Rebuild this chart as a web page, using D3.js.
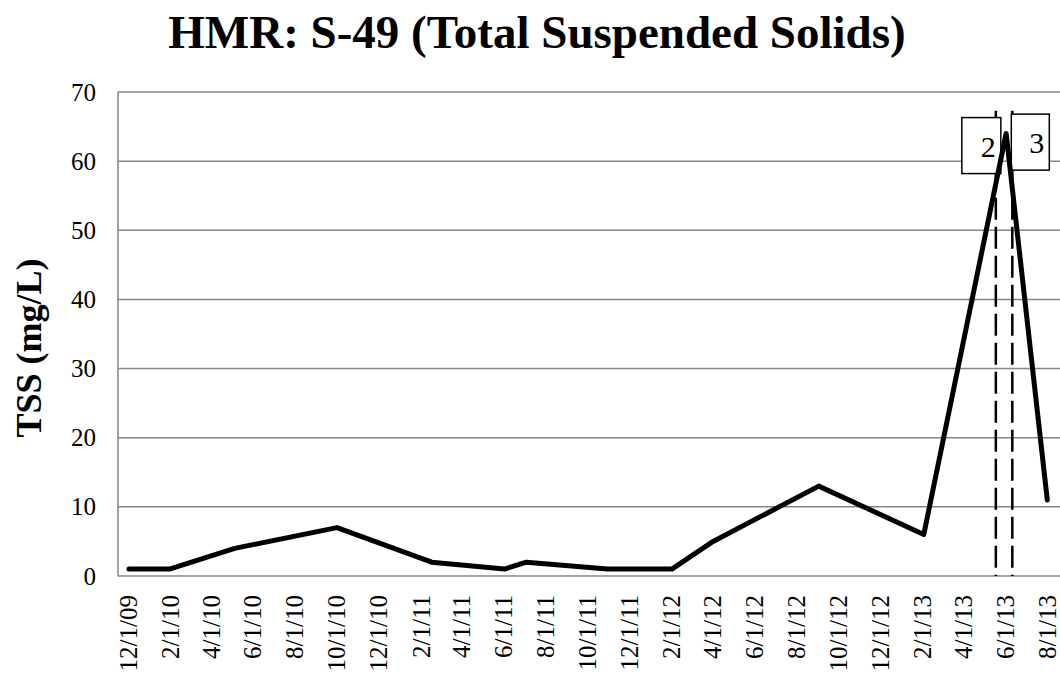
<!DOCTYPE html>
<html>
<head>
  <style>
    body {
      margin: 0;
      background: #fff;
    }
    svg text {
      font-family: "Liberation Serif", "Times New Roman", serif;
      fill: #000;
    }
    .grid line {
      stroke: #868686;
      stroke-width: 1.5px;
    }
    .series {
      fill: none;
      stroke: #000;
      stroke-width: 5px;
      stroke-linejoin: round;
      stroke-linecap: round;
    }
    .event {
      stroke: #000;
      stroke-width: 2.5px;
      stroke-dasharray: 22, 7;
    }
    .callout rect {
      fill: #fff;
      stroke: #000;
      stroke-width: 1.5px;
    }
  </style>
</head>
<body>
  <script src="https://d3js.org/d3.v7.min.js"></script>
  <script>
    // sample dates and TSS readings
    var sampleDates = ["12/1/09", "1/29/10", "5/4/10", "9/30/10", "2/15/11", "6/1/11", "7/3/11",
                       "10/29/11", "1/31/12", "3/31/12", "9/1/12", "2/1/13", "6/1/13", "7/31/13"];
    var tss = [1, 1, 4, 7, 2, 1, 2, 1, 1, 5, 13, 6, 64, 11];

    // dashed event markers with their numbered callouts
    var eventDates = ["5/17/13", "6/10/13"];
    var eventLabels = ["2", "3"];

    var tickLabels = ["12/1/09", "2/1/10", "4/1/10", "6/1/10", "8/1/10", "10/1/10", "12/1/10",
                      "2/1/11", "4/1/11", "6/1/11", "8/1/11", "10/1/11", "12/1/11", "2/1/12",
                      "4/1/12", "6/1/12", "8/1/12", "10/1/12", "12/1/12", "2/1/13", "4/1/13",
                      "6/1/13", "8/1/13"];
    var yTicks = [0, 10, 20, 30, 40, 50, 60, 70];

    var width = 1060, height = 673;
    var plot = {left: 118, right: 1060, top: 92, bottom: 576};
    var serif = "'Liberation Serif', 'Times New Roman', serif";

    var parse = d3.utcParse("%m/%d/%y");

    var svg = d3.select("body").append("svg")
        .attr("width", width)
        .attr("height", height);

    var x = d3.scaleUtc()
        .domain([parse(tickLabels[0]), parse(tickLabels[tickLabels.length - 1])])
        .range([129, 1048]);

    var y = d3.scaleLinear()
        .domain([0, 70])
        .range([plot.bottom, plot.top]);

    // horizontal gridlines
    svg.append("g")
        .attr("class", "grid")
      .selectAll("line")
      .data(yTicks)
      .enter().append("line")
        .attr("x1", plot.left)
        .attr("x2", plot.right)
        .attr("y1", d => y(d))
        .attr("y2", d => y(d));

    // left axis line
    svg.append("line")
        .attr("x1", plot.left).attr("x2", plot.left)
        .attr("y1", plot.top).attr("y2", plot.bottom)
        .attr("stroke", "#868686")
        .attr("stroke-width", 1.5);

    var yAxis = d3.axisLeft(y)
        .tickValues(yTicks)
        .tickSize(0)
        .tickPadding(22);

    svg.append("g")
        .attr("transform", "translate(" + plot.left + ",0)")
        .call(yAxis)
        .call(g => g.select(".domain").remove())
        .selectAll("text")
        .style("font-family", serif)
        .style("font-size", "25px");

    var xAxis = d3.axisBottom(x)
        .tickValues(tickLabels.map(parse))
        .tickFormat((d, i) => tickLabels[i])
        .tickSize(0);

    svg.append("g")
        .attr("transform", "translate(0," + plot.bottom + ")")
        .call(xAxis)
        .call(g => g.select(".domain").remove())
        .selectAll("text")
        .style("font-family", serif)
        .style("font-size", "25px")
        .attr("text-anchor", "end")
        .attr("transform", "rotate(-90)")
        .attr("x", -19)
        .attr("y", 0)
        .attr("dy", "0.28em");

    // event markers
    var events = eventDates.map((d, i) => ({date: parse(d), label: eventLabels[i]}));

    svg.append("g")
      .selectAll("line")
      .data(events)
      .enter().append("line")
        .attr("class", "event")
        .attr("x1", d => x(d.date))
        .attr("x2", d => x(d.date))
        .attr("y1", y(67.3))
        .attr("y2", y(0));

    var callout = svg.append("g")
        .attr("class", "callout")
      .selectAll("g")
      .data(events)
      .enter().append("g")
        .attr("transform", (d, i) => i === 0
            ? "translate(" + (x(d.date) - 34) + "," + y(66.3) + ")"
            : "translate(" + (x(d.date) - 1) + "," + y(66.8) + ")");

    callout.append("rect")
        .attr("width", (d, i) => i === 0 ? 39 : 38)
        .attr("height", 56);

    callout.append("text")
        .attr("x", (d, i) => i === 0 ? 34 : 33)
        .attr("y", 39)
        .attr("text-anchor", "end")
        .style("font-size", "30px")
        .text(d => d.label);

    // TSS series
    var line = d3.line()
        .x(d => x(d.date))
        .y(d => y(d.value));

    var series = sampleDates.map((d, i) => ({date: parse(d), value: tss[i]}));

    svg.append("path")
        .datum(series)
        .attr("class", "series")
        .attr("d", line);

    // titles
    svg.append("text")
        .attr("x", 537)
        .attr("y", 48)
        .attr("text-anchor", "middle")
        .style("font-weight", "bold")
        .style("font-size", "47px")
        .text("HMR: S-49 (Total Suspended Solids)");

    svg.append("text")
        .attr("transform", "translate(41,348) rotate(-90)")
        .attr("text-anchor", "middle")
        .style("font-weight", "bold")
        .style("font-size", "36px")
        .text("TSS (mg/L)");
  </script>
</body>
</html>
